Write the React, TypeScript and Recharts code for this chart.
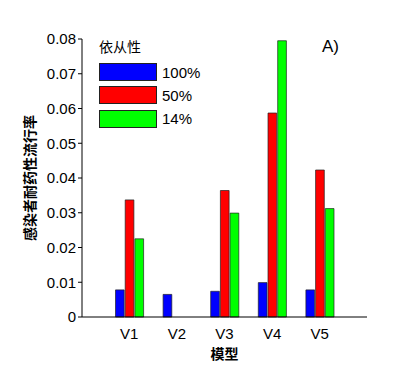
import React from 'react';
import { BarChart, Bar, XAxis, YAxis } from 'recharts';

const models = ['V1', 'V2', 'V3', 'V4', 'V5'];
const adherence100 = [0.0078, 0.0065, 0.0074, 0.0099, 0.0078];
const adherence50 = [0.0337, 0, 0.0364, 0.0587, 0.0423];
const adherence14 = [0.0225, 0, 0.0299, 0.0795, 0.0312];
const yTicks = [0, 0.01, 0.02, 0.03, 0.04, 0.05, 0.06, 0.07, 0.08];

const seriesNames = ['100%', '50%', '14%'];
const seriesColors = ['#0000ff', '#ff0000', '#00ff00'];

const data = models.map((name, i) => ({
  name,
  a100: adherence100[i],
  a50: adherence50[i],
  a14: adherence14[i],
}));

const sans = '"Liberation Sans", Arial, sans-serif';
const cjk = '"Noto Sans CJK SC", sans-serif';

const App: React.FC = () => {
  return (
    <div style={{ position: 'absolute', left: 0, top: 0, width: 406, height: 369, background: '#fff' }}>
      <BarChart
        width={406}
        height={369}
        data={data}
        margin={{ top: 39, right: 39, left: 32, bottom: 0 }}
        barGap={1}
        barSize={8.7}
      >
        <XAxis
          dataKey="name"
          height={52}
          padding={{ left: 23.5, right: 23.5 }}
          tickLine={false}
          stroke="#000"
          tick={{ fill: '#000', fontSize: 15, fontFamily: sans }}
          tickMargin={5}
          label={{ value: '模型', position: 'insideBottom', offset: 10, fill: '#000', fontSize: 14, fontWeight: 'bold', fontFamily: cjk }}
        />
        <YAxis
          width={50}
          domain={[0, 0.08]}
          ticks={yTicks}
          interval={0}
          tickSize={4}
          stroke="#000"
          tick={{ fill: '#000', fontSize: 15, fontFamily: sans }}
          tickFormatter={(v: number) => (v === 0 ? '0' : v.toFixed(2))}
          label={{ value: '感染者耐药性流行率', angle: -90, position: 'center', dx: -27, fill: '#000', fontSize: 14, fontWeight: 'bold', fontFamily: cjk }}
        />
        <Bar dataKey="a100" name={seriesNames[0]} fill={seriesColors[0]} stroke="#222" strokeWidth={0.7} isAnimationActive={false} />
        <Bar dataKey="a50" name={seriesNames[1]} fill={seriesColors[1]} stroke="#222" strokeWidth={0.7} isAnimationActive={false} />
        <Bar dataKey="a14" name={seriesNames[2]} fill={seriesColors[2]} stroke="#222" strokeWidth={0.7} isAnimationActive={false} />
      </BarChart>

      {/* legend */}
      <div style={{ position: 'absolute', left: 99, top: 36, fontFamily: cjk, fontSize: 14, color: '#000' }}>依从性</div>
      {seriesNames.map((n, i) => (
        <div key={n} style={{ position: 'absolute', left: 99, top: 63 + i * 23.3, display: 'flex', alignItems: 'center' }}>
          <div style={{ width: 56, height: 16, background: seriesColors[i], border: '1px solid #222' }} />
          <span style={{ marginLeft: 5, fontFamily: sans, fontSize: 15, color: '#000' }}>{n}</span>
        </div>
      ))}
      <div style={{ position: 'absolute', left: 322, top: 37, fontFamily: sans, fontSize: 17, color: '#000' }}>A)</div>
    </div>
  );
};

export default App;
